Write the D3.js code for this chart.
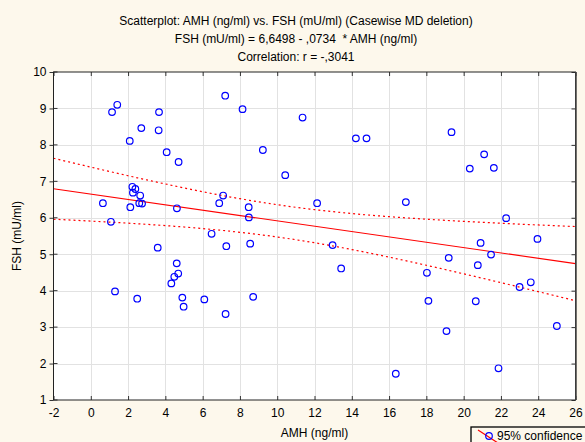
<!DOCTYPE html>
<html>
<head>
<meta charset="utf-8">
<script src="https://cdn.jsdelivr.net/npm/d3@7"></script>
<style>
  html, body { margin: 0; padding: 0; background: #fdf8ec; }
  svg { display: block; font-family: "Liberation Sans", Arial, sans-serif; }
  text { white-space: pre; }
</style>
</head>
<body>
<svg id="chart" width="585" height="442"></svg>
<script>
// AMH (ng/ml) for each case
const amh = [0.65, 1.14, 1.42, 1.08, 1.30, 2.09, 2.12, 2.23, 2.39, 2.26,
  2.65, 2.60, 2.75, 2.49, 2.71, 3.66, 3.64, 3.59, 4.07, 4.71,
  4.62, 4.61, 4.69, 4.48, 4.32, 4.91, 4.98, 6.09, 6.48, 6.89,
  7.10, 7.21, 7.27, 7.23, 8.14, 8.47, 8.48, 8.55, 8.71, 9.23,
  10.43, 11.36, 12.14, 12.97, 13.43, 14.22, 14.79, 16.36, 16.90, 18.03,
  18.11, 19.08, 19.20, 19.35, 20.33, 20.65, 20.76, 20.91, 21.10, 21.47,
  21.62, 21.87, 22.28, 23.00, 23.60, 23.96, 25.00];
// FSH (mU/ml) for each case
const fsh = [6.40, 8.90, 9.10, 5.89, 3.98, 8.11, 6.29, 6.85, 6.79, 6.69,
  6.61, 6.40, 6.39, 3.78, 8.46, 8.90, 8.40, 5.18, 7.80, 7.53,
  6.26, 4.75, 4.47, 4.38, 4.20, 3.81, 3.56, 3.76, 5.56, 6.40,
  6.61, 9.35, 5.22, 3.36, 8.98, 6.29, 6.01, 5.29, 3.83, 7.86,
  7.17, 8.75, 6.40, 5.25, 4.61, 8.18, 8.18, 1.72, 6.43, 4.49,
  3.72, 2.89, 4.90, 8.35, 7.35, 3.71, 4.70, 5.31, 7.74, 4.99,
  7.37, 1.87, 5.99, 4.10, 4.23, 5.42, 3.03];

const intercept = 6.6498;
const slope = -0.0734;
const titleLines = [
  "Scatterplot: AMH (ng/ml) vs. FSH (mU/ml) (Casewise MD deletion)",
  "FSH (mU/ml) = 6,6498 - ,0734  * AMH (ng/ml)",
  "Correlation: r = -,3041"
];
const xTicks = [-2, 0, 2, 4, 6, 8, 10, 12, 14, 16, 18, 20, 22, 24, 26];
const yTicks = [1, 2, 3, 4, 5, 6, 7, 8, 9, 10];
const xLabel = "AMH (ng/ml)";
const yLabel = "FSH (mU/ml)";
const legendLabel = "95% confidence";

const FS = 12;
const svg = d3.select("#chart");
const L = 53.5, R = 575.5, T = 72, B = 400;
const x = d3.scaleLinear().domain([-2, 26]).range([L, R]);
const y = d3.scaleLinear().domain([1, 10]).range([B, T]);

// plot area
svg.append("rect").attr("x", L).attr("y", T).attr("width", R - L).attr("height", B - T)
  .attr("fill", "#ffffff");

// grid
const grid = svg.append("g").attr("stroke", "#e2e2e2").attr("stroke-width", 1);
xTicks.slice(1, -1).forEach(v => grid.append("line")
  .attr("x1", Math.round(x(v)) + 0.5).attr("x2", Math.round(x(v)) + 0.5)
  .attr("y1", T).attr("y2", B));
yTicks.slice(1, -1).forEach(v => grid.append("line")
  .attr("x1", L).attr("x2", R)
  .attr("y1", Math.round(y(v)) + 0.5).attr("y2", Math.round(y(v)) + 0.5));

// axes (inside ticks)
const fmt = d => String(d);
const bottomAxis = d3.axisBottom(x).tickValues(xTicks).tickSize(-4).tickPadding(8).tickFormat(fmt);
const topAxis = d3.axisTop(x).tickValues(xTicks).tickSize(-4).tickFormat("");
const leftAxis = d3.axisLeft(y).tickValues(yTicks).tickSize(4).tickPadding(3).tickFormat(fmt);
const rightAxis = d3.axisRight(y).tickValues(yTicks).tickSize(-4).tickFormat("");

function styleAxis(g) {
  g.select(".domain").remove();
  g.selectAll("line").attr("stroke", "#333");
  g.selectAll("text").attr("fill", "#000").attr("font-size", FS)
    .attr("font-family", "Liberation Sans, Arial, sans-serif");
}
svg.append("g").attr("transform", `translate(0,${B})`).call(bottomAxis).call(styleAxis);
svg.append("g").attr("transform", `translate(0,${T})`).call(topAxis).call(styleAxis);
svg.append("g").attr("transform", `translate(${L},0)`).call(leftAxis).call(styleAxis);
svg.append("g").attr("transform", `translate(${R},0)`).call(rightAxis).call(styleAxis);
// inner ticks on the left edge too
svg.append("g").selectAll("line").data(yTicks).join("line")
  .attr("x1", L).attr("x2", L + 4).attr("y1", d => y(d)).attr("y2", d => y(d)).attr("stroke", "#333");

// confidence band of the regression line
const n = amh.length;
const xbar = d3.mean(amh);
const sxx = d3.sum(amh, v => (v - xbar) ** 2);
const sse = d3.sum(amh, (v, i) => (fsh[i] - (intercept + slope * v)) ** 2);
const s = Math.sqrt(sse / (n - 2));
const tval = 1.997;
const xs = d3.range(-2, 26.001, 0.25);
const fit = v => intercept + slope * v;
const half = v => tval * s * Math.sqrt(1 / n + (v - xbar) ** 2 / sxx);

svg.append("clipPath").attr("id", "plotclip").append("rect")
  .attr("x", L).attr("y", T).attr("width", R - L).attr("height", B - T);
const plotG = svg.append("g").attr("clip-path", "url(#plotclip)");

const line = d3.line().x(d => x(d[0])).y(d => y(d[1]));
plotG.append("path").datum(xs.map(v => [v, fit(v) + half(v)])).attr("d", line)
  .attr("fill", "none").attr("stroke", "#ff0000").attr("stroke-width", 1.2).attr("stroke-dasharray", "2,3");
plotG.append("path").datum(xs.map(v => [v, fit(v) - half(v)])).attr("d", line)
  .attr("fill", "none").attr("stroke", "#ff0000").attr("stroke-width", 1.2).attr("stroke-dasharray", "2,3");
plotG.append("path").datum([[-2, fit(-2)], [26, fit(26)]]).attr("d", line)
  .attr("fill", "none").attr("stroke", "#ff0000").attr("stroke-width", 1.2);

// points
plotG.append("g").selectAll("circle").data(amh).join("circle")
  .attr("cx", d => x(d)).attr("cy", (d, i) => y(fsh[i])).attr("r", 3.3)
  .attr("fill", "none").attr("stroke", "#0000ff").attr("stroke-width", 1.2);

// frame
svg.append("rect").attr("x", L).attr("y", T).attr("width", R - L).attr("height", B - T)
  .attr("fill", "none").attr("stroke", "#222").attr("stroke-width", 1);
svg.append("line").attr("x1", R + 0.5).attr("x2", R + 0.5).attr("y1", T).attr("y2", B)
  .attr("stroke", "#444").attr("stroke-width", 1.5);

// titles
svg.append("g").selectAll("text").data(titleLines).join("text")
  .attr("x", 296).attr("y", (d, i) => 25 + i * 18).attr("text-anchor", "middle")
  .attr("font-size", FS).attr("fill", "#000").text(d => d);

svg.append("text").attr("x", (L + R) / 2).attr("y", 437).attr("text-anchor", "middle")
  .attr("font-size", FS).text(xLabel);
svg.append("text").attr("transform", `translate(21,${(T + B) / 2}) rotate(-90)`)
  .attr("text-anchor", "middle").attr("font-size", FS).text(yLabel);

// legend
const lg = svg.append("g");
lg.append("rect").attr("x", 471).attr("y", 427).attr("width", 130).attr("height", 30)
  .attr("fill", "#fdf8ec").attr("stroke", "#000").attr("stroke-width", 1.3);
lg.append("line").attr("x1", 478).attr("y1", 430).attr("x2", 498).attr("y2", 443)
  .attr("stroke", "#ff0000").attr("stroke-width", 1.2);
lg.append("circle").attr("cx", 489).attr("cy", 436).attr("r", 3.3)
  .attr("fill", "none").attr("stroke", "#0000ff").attr("stroke-width", 1.2);
lg.append("text").attr("x", 497).attr("y", 440).attr("font-size", FS).text(legendLabel);
</script>
</body>
</html>
